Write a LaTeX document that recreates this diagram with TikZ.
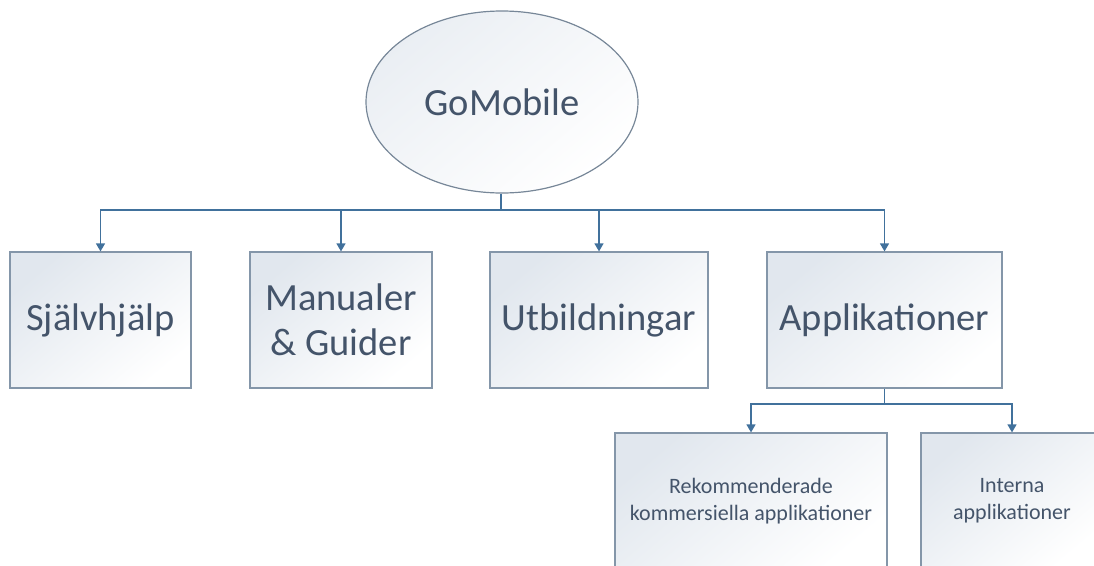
\documentclass[tikz,border=0pt]{standalone}
\usepackage{fontspec}
\setmainfont{Carlito}
\usepackage{xcolor}
\definecolor{GMLink}{HTML}{41719C}
\definecolor{GMEdge}{HTML}{8496A9}
\definecolor{GMText}{HTML}{44546A}
\definecolor{GMShade}{HTML}{E1E7EE}
\usetikzlibrary{arrows.meta,shapes.geometric}

\begin{document}
\begin{tikzpicture}[
  x=1pt,y=-1pt,
  card/.style={draw=GMEdge,line width=1.2pt,top color=GMShade,bottom color=white,shading angle=40,
    minimum height=136pt,align=center,text=GMText,inner sep=0pt,font=\fontsize{38.5}{45}\selectfont},
  smallcard/.style={card,minimum width=272pt,font=\fontsize{22}{27}\selectfont},
  hubnode/.style={ellipse,draw=GMEdge!90!black,line width=1.2pt,top color=GMShade!70,bottom color=white,shading angle=40,
    minimum width=272pt,minimum height=182pt,inner sep=0pt,text=GMText,font=\fontsize{38.5}{45}\selectfont},
  link/.style={draw=GMLink,line width=1.3pt,-{Triangle[width=9pt,length=8pt]}}
]
  \useasboundingbox (0,0) rectangle (1094,565);
  \clip (0,0) rectangle (1094,565);
  \node[hubnode] (go) at (502,102) {GoMobile};
  \node[card,minimum width=181pt] (sjalv) at (100.5,320) {Självhjälp};
  \node[card,minimum width=182pt] (manual) at (341,320) {Manualer\\\& Guider};
  \node[card,minimum width=218pt] (utb) at (599,320) {Utbildningar};
  \node[card,minimum width=235pt] (appl) at (884.5,320) {Applikationer};
  \node[smallcard,minimum width=272pt] (rek) at (751,501) {Rekommenderade\\kommersiella applikationer};
  \node[smallcard,minimum width=182pt] (intern) at (1012,501) {Interna\\applikationer};
  \coordinate (hub) at (501,210);
  \coordinate (apphub) at (884.5,404);
  \draw[GMLink,line width=1.3pt] (go.south -| hub) -- (hub);
  \draw[link] (hub) -| (sjalv.north);
  \draw[link] (hub) -| (manual.north);
  \draw[link] (hub) -| (utb.north);
  \draw[link] (hub) -| (appl.north);
  \draw[GMLink,line width=1.3pt] (appl.south) -- (apphub);
  \draw[link] (apphub) -| (rek.north);
  \draw[link] (apphub) -| (intern.north);
\end{tikzpicture}
\end{document}
